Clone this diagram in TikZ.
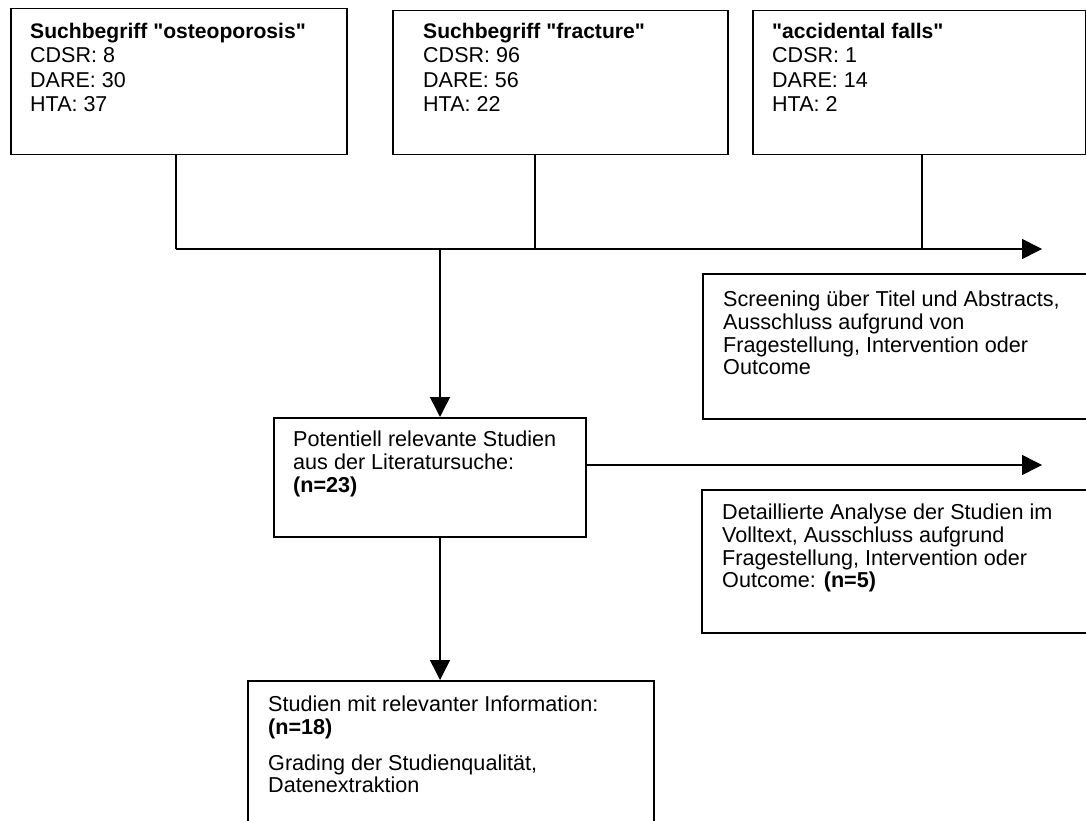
\documentclass[tikz,border=0pt]{standalone}
\usepackage{fontspec}
\setmainfont{Liberation Sans}[Ligatures=TeXOff]
\usetikzlibrary{arrows.meta}
\begin{document}
\begin{tikzpicture}[x=1pt,y=-1pt,
  box/.style={draw, line width=1.5pt, inner sep=0pt, anchor=north west},
  txt/.style={anchor=north west, inner sep=0pt, align=left, font=\fontsize{21.5}{24.5}\selectfont},
  txtb/.style={txt, font=\fontsize{21.6}{22.7}\selectfont},
  conn/.style={line width=1.5pt},
  arr/.style={line width=1.5pt, -{Triangle[length=20pt,width=20pt]}}]
\useasboundingbox (0,0) rectangle (1086,821);
\clip (0,0) rectangle (1086,821);
% boxes
\node[box, minimum width=336pt, minimum height=146pt] (b1) at (10,8) {};
\node[box, minimum width=335pt, minimum height=144pt] (b2) at (392,10) {};
\node[box, minimum width=333pt, minimum height=144pt] (b3) at (752,10) {};
\node[box, minimum width=400pt, minimum height=145pt] (s) at (702,273) {};
\node[box, minimum width=312pt, minimum height=119pt] (m) at (273,417) {};
\node[box, minimum width=400pt, minimum height=143pt] (d) at (701,489) {};
\node[box, minimum width=406pt, minimum height=170pt] (f) at (247,680) {};
% texts
\node[txt] (t1) at (30,23) {{\fontsize{21.1}{24.5}\selectfont\bfseries Suchbegriff "osteoporosis"}\\CDSR: 8\\DARE: 30\\HTA: 37};
\node[txt] (t2) at (423,23) {{\fontsize{21.1}{24.5}\selectfont\bfseries Suchbegriff "fracture"}\\CDSR: 96\\DARE: 56\\HTA: 22};
\node[txt] (t3) at (772,23) {{\fontsize{21.1}{24.5}\selectfont\bfseries "accidental falls"}\\CDSR: 1\\DARE: 14\\HTA: 2};
\node[txtb] (ts) at (723,291) {Screening über Titel und Abstracts,\\Ausschluss aufgrund von\\Fragestellung, Intervention oder\\Outcome};
\node[txtb] (tm) at (293,431) {Potentiell relevante Studien\\aus der Literatursuche:\\\textbf{(n=23)}};
\node[txtb] (td) at (722,504) {Detaillierte Analyse der Studien im\\Volltext, Ausschluss aufgrund\\Fragestellung, Intervention oder\\Outcome: \textbf{(n=5)}};
\node[txtb] (tf) at (268,696) {Studien mit relevanter Information:\\\textbf{(n=18)}\\[13pt]Grading der Studienqualität,\\Datenextraktion};
% connectors
\coordinate (j0) at (440,249);
\coordinate (j1) at (176,249);
\coordinate (j2) at (535,249);
\coordinate (j3) at (922,249);
\coordinate (tip1) at (1042,249);
\coordinate (tip2) at (1042,465);
\draw[conn] (j1 |- b1.south) -- (j1);
\draw[conn] (j2 |- b2.south) -- (j2);
\draw[conn] (j3 |- b3.south) -- (j3);
\draw[arr] (j1) -- (tip1);
\draw[arr] (j0) -- (j0 |- m.north);
\draw[arr] (m.east |- tip2) -- (tip2);
\draw[arr] (j0 |- m.south) -- (j0 |- f.north);
\end{tikzpicture}
\end{document}
